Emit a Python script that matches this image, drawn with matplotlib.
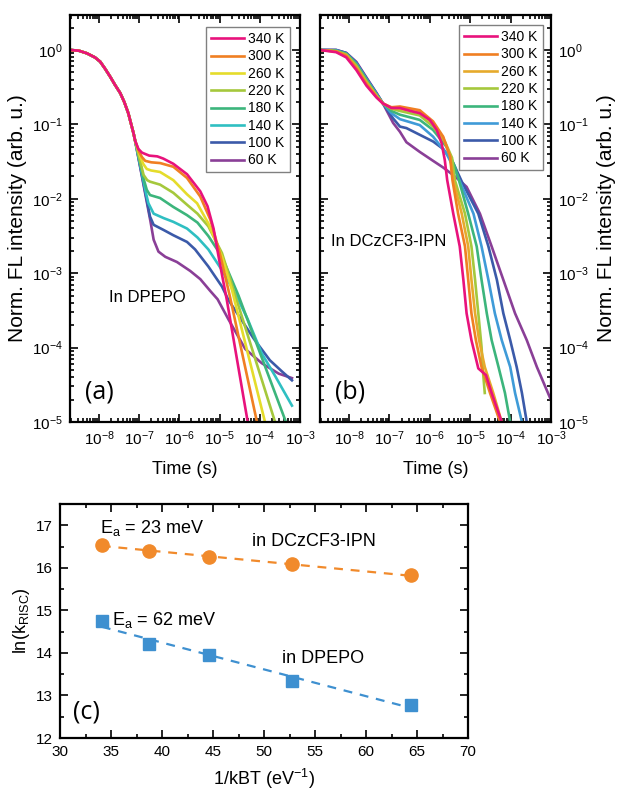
import numpy as np
import matplotlib
matplotlib.use('Agg')
import matplotlib.pyplot as plt
from matplotlib.ticker import FixedLocator, MultipleLocator, NullFormatter, LogFormatterSciNotation

plt.rcParams['font.family'] = ['Liberation Sans', 'DejaVu Sans']
plt.rcParams['mathtext.fontset'] = 'custom'
plt.rcParams['mathtext.rm'] = 'Liberation Sans'
plt.rcParams['mathtext.it'] = 'Liberation Sans:italic'
plt.rcParams['mathtext.bf'] = 'Liberation Sans:bold'

temps = ['340 K', '300 K', '260 K', '220 K', '180 K', '140 K', '100 K', '60 K']
colors_a = ['#e8127c', '#f07f22', '#e5dc2b', '#a5c83c', '#3cb57c', '#2fbfc2', '#3b5aa9', '#8a3f97']
colors_b = ['#e8127c', '#f07f22', '#e6aa2c', '#a5c83c', '#3cb57c', '#3f9bd8', '#3b5aa9', '#8a3f97']

# ---------- Panel (a): in DPEPO, values as log10(time / s), log10(norm. intensity)
a_head_t = [-8.72, -8.50, -8.30, -8.10, -7.97, -7.85, -7.72, -7.60, -7.47, -7.37, -7.27, -7.14, -7.10]
a_head_I = [0.0, -0.01, -0.045, -0.10, -0.157, -0.25, -0.36, -0.47, -0.58, -0.70, -0.85, -1.12, -1.22]

a340_t = [-7.02, -6.93, -6.75, -6.55, -6.40, -6.15, -5.81, -5.48, -5.30, -5.15, -5.00, -4.82, -4.30, -4.20]
a340_I = [-1.33, -1.38, -1.42, -1.43, -1.46, -1.53, -1.67, -1.90, -2.10, -2.40, -2.85, -3.36, -5.0, -5.32]
a300_t = [-7.00, -6.93, -6.85, -6.70, -6.48, -6.15, -5.81, -5.48, -5.23, -5.00, -4.74, -4.07, -3.97]
a300_I = [-1.37, -1.44, -1.49, -1.51, -1.52, -1.57, -1.72, -1.97, -2.28, -2.72, -3.32, -5.0, -5.32]
a260_t = [-6.98, -6.90, -6.81, -6.70, -6.48, -6.15, -5.81, -5.56, -5.28, -4.94, -4.69, -3.87, -3.77]
a260_I = [-1.42, -1.53, -1.60, -1.62, -1.64, -1.75, -1.94, -2.06, -2.33, -2.78, -3.23, -5.0, -5.32]
a220_t = [-6.95, -6.89, -6.80, -6.73, -6.48, -6.15, -5.81, -5.55, -5.28, -4.94, -4.61, -3.62, -3.50]
a220_I = [-1.55, -1.68, -1.75, -1.77, -1.81, -1.92, -2.08, -2.20, -2.37, -2.73, -3.30, -5.0, -5.32]
a180_t = [-6.88, -6.81, -6.73, -6.48, -6.15, -5.81, -5.55, -5.28, -4.94, -4.53, -3.35, -3.22]
a180_I = [-1.75, -1.88, -1.95, -1.99, -2.11, -2.22, -2.32, -2.50, -2.78, -3.30, -5.0, -5.3]
a140_t = [-6.82, -6.77, -6.64, -6.39, -6.15, -5.81, -5.55, -5.28, -4.94, -4.61, -4.30, -3.95, -3.62, -3.20]
a140_I = [-1.95, -2.06, -2.20, -2.26, -2.31, -2.40, -2.52, -2.68, -2.96, -3.27, -3.62, -4.08, -4.38, -4.78]
a100_t = [-6.78, -6.73, -6.64, -6.39, -6.15, -5.81, -5.61, -5.28, -4.94, -4.78, -4.15, -3.75, -3.45, -3.20]
a100_I = [-2.10, -2.24, -2.35, -2.42, -2.49, -2.58, -2.68, -2.91, -3.18, -3.36, -3.88, -4.17, -4.32, -4.44]
a60_t = [-6.72, -6.64, -6.52, -6.35, -6.06, -5.73, -5.48, -5.23, -5.05, -4.78, -4.36, -3.95, -3.53, -3.20]
a60_I = [-2.30, -2.55, -2.71, -2.78, -2.85, -2.97, -3.08, -3.24, -3.35, -3.62, -4.02, -4.21, -4.35, -4.41]

# ---------- Panel (b): in DCzCF3-IPN
b340_t = [-8.73, -8.32, -8.07, -7.82, -7.57, -7.32, -7.16, -6.95, -6.74, -6.41, -6.25, -6.00, -5.83, -5.71, -5.63, -5.57, -5.42, -5.26, -5.17, -5.09, -4.97, -4.80, -4.61, -4.47, -4.22, -4.12]
b340_I = [0.0, -0.03, -0.10, -0.27, -0.48, -0.64, -0.72, -0.78, -0.78, -0.83, -0.85, -0.94, -1.075, -1.25, -1.48, -1.75, -2.20, -2.64, -3.09, -3.54, -3.90, -4.28, -4.37, -4.61, -5.0, -5.2]
b300_t = [-8.73, -8.32, -8.07, -7.82, -7.57, -7.32, -7.16, -6.95, -6.74, -6.25, -5.92, -5.67, -5.50, -5.44, -5.30, -5.13, -5.05, -4.97, -4.86, -4.72, -4.51, -4.26, -4.15]
b300_I = [0.0, -0.02, -0.08, -0.25, -0.46, -0.63, -0.72, -0.77, -0.76, -0.81, -0.96, -1.165, -1.43, -1.75, -2.20, -2.64, -3.09, -3.54, -3.90, -4.26, -4.61, -5.0, -5.2]
b260_t = [-8.73, -8.32, -8.07, -7.82, -7.57, -7.32, -7.16, -6.95, -6.74, -6.25, -5.92, -5.67, -5.50, -5.42, -5.21, -5.05, -4.97, -4.88, -4.78, -4.64, -4.43, -4.22, -4.10]
b260_I = [0.0, -0.02, -0.07, -0.23, -0.44, -0.62, -0.72, -0.78, -0.79, -0.84, -0.99, -1.18, -1.42, -1.75, -2.20, -2.64, -3.09, -3.54, -3.90, -4.26, -4.61, -5.0, -5.2]
b220_t = [-8.73, -8.32, -8.07, -7.82, -7.57, -7.32, -7.16, -6.95, -6.74, -6.25, -5.92, -5.62, -5.45, -5.38, -5.13, -4.97, -4.88, -4.80, -4.72, -4.68, -4.64]
b220_I = [0.0, -0.015, -0.06, -0.21, -0.42, -0.61, -0.72, -0.79, -0.82, -0.88, -1.03, -1.24, -1.45, -1.75, -2.20, -2.64, -3.09, -3.54, -3.99, -4.35, -4.61]
b180_t = [-8.73, -8.32, -8.07, -7.82, -7.57, -7.32, -7.16, -6.95, -6.74, -6.25, -5.92, -5.59, -5.38, -5.28, -5.05, -4.84, -4.72, -4.59, -4.47, -4.30, -4.14, -4.01, -3.92]
b180_I = [0.0, -0.01, -0.05, -0.19, -0.40, -0.60, -0.72, -0.82, -0.87, -0.94, -1.075, -1.30, -1.57, -1.75, -2.20, -2.64, -3.09, -3.54, -3.90, -4.26, -4.61, -5.0, -5.2]
b140_t = [-8.73, -8.32, -8.07, -7.82, -7.57, -7.32, -7.16, -6.95, -6.74, -6.25, -5.92, -5.59, -5.34, -5.17, -4.92, -4.72, -4.55, -4.39, -4.22, -4.01, -3.89, -3.72, -3.65]
b140_I = [0.0, -0.005, -0.05, -0.18, -0.39, -0.59, -0.72, -0.85, -0.93, -1.01, -1.165, -1.39, -1.66, -1.88, -2.20, -2.64, -3.09, -3.54, -3.90, -4.26, -4.61, -5.0, -5.2]
b100_t = [-8.73, -8.32, -8.07, -7.82, -7.57, -7.32, -7.16, -6.91, -6.74, -6.58, -6.25, -5.92, -5.67, -5.42, -5.20, -4.80, -4.55, -4.34, -4.18, -4.01, -3.85, -3.72, -3.60, -3.52]
b100_I = [0.0, 0.0, -0.04, -0.17, -0.38, -0.58, -0.72, -0.92, -1.03, -1.05, -1.14, -1.23, -1.33, -1.52, -1.78, -2.20, -2.64, -3.09, -3.54, -3.90, -4.26, -4.61, -5.0, -5.2]
b60_t = [-8.73, -8.32, -8.07, -7.82, -7.57, -7.32, -7.16, -6.91, -6.74, -6.58, -6.25, -5.92, -5.67, -5.45, -5.25, -5.09, -4.76, -4.47, -4.18, -3.89, -3.60, -3.35, -3.02]
b60_I = [0.0, 0.0, -0.04, -0.16, -0.37, -0.58, -0.72, -0.98, -1.10, -1.24, -1.37, -1.49, -1.58, -1.67, -1.76, -1.84, -2.20, -2.64, -3.09, -3.54, -3.90, -4.26, -4.68]

# ---------- Panel (c): Arrhenius plot
inv_kT = [34.1, 38.7, 44.6, 52.7, 64.4]
lnk_ipn = [16.53, 16.40, 16.26, 16.08, 15.82]
lnk_dpepo = [14.74, 14.22, 13.95, 13.35, 12.78]

# axis decades shown as labelled ticks
x_decades = [-8, -7, -6, -5, -4, -3]
y_decades = [-5, -4, -3, -2, -1, 0]

a_tails = [(a340_t, a340_I), (a300_t, a300_I), (a260_t, a260_I), (a220_t, a220_I),
           (a180_t, a180_I), (a140_t, a140_I), (a100_t, a100_I), (a60_t, a60_I)]
b_curves = [(b340_t, b340_I), (b300_t, b300_I), (b260_t, b260_I), (b220_t, b220_I),
            (b180_t, b180_I), (b140_t, b140_I), (b100_t, b100_I), (b60_t, b60_I)]

fig = plt.figure(figsize=(6.22, 7.94), dpi=100)
axa = fig.add_axes([70/622, 1-422/794, 230/622, 407/794])
axb = fig.add_axes([320/622, 1-422/794, 231/622, 407/794])
axc = fig.add_axes([60/622, 1-738/794, 408/622, 234/794])

LW = 1.9
TICK_FS = 11
XLIM = (10**-8.72, 1e-3)
YLIM = (1e-5, 2.95)


def minor_in_range(lo, hi):
    vals = []
    for d in range(int(np.floor(np.log10(lo))) - 1, int(np.ceil(np.log10(hi))) + 1):
        for s in range(2, 10):
            v = s * 10.0**d
            if lo <= v <= hi:
                vals.append(v)
    return vals


def style_log(ax):
    ax.set_xscale('log')
    ax.set_yscale('log')
    ax.set_xlim(*XLIM)
    ax.set_ylim(*YLIM)
    ax.xaxis.set_major_locator(FixedLocator([10.0**d for d in x_decades]))
    ax.yaxis.set_major_locator(FixedLocator([10.0**d for d in y_decades]))
    ax.xaxis.set_major_formatter(LogFormatterSciNotation())
    ax.yaxis.set_major_formatter(LogFormatterSciNotation())
    ax.xaxis.set_minor_locator(FixedLocator(minor_in_range(*XLIM)))
    ax.yaxis.set_minor_locator(FixedLocator(minor_in_range(*YLIM)))
    ax.xaxis.set_minor_formatter(NullFormatter())
    ax.yaxis.set_minor_formatter(NullFormatter())
    ax.tick_params(which='both', direction='in', top=True, right=True, width=1.2)
    ax.tick_params(which='major', length=6, labelsize=TICK_FS, pad=5)
    ax.tick_params(which='minor', length=3)
    for s in ax.spines.values():
        s.set_linewidth(1.6)
    ax.set_xlabel('Time (s)', fontsize=13, labelpad=10)


# Panel (a)
style_log(axa)
handles = []
for i in range(len(temps) - 1, -1, -1):
    t = np.array(a_head_t + a_tails[i][0])
    y = np.array(a_head_I + a_tails[i][1])
    ln, = axa.plot(10**t, 10**y, color=colors_a[i], lw=LW, label=temps[i])
    handles.append(ln)
handles = handles[::-1]
axa.legend(handles=handles, loc='upper right', bbox_to_anchor=(0.955, 0.97), fontsize=10,
           frameon=True, fancybox=False, edgecolor='#808080', framealpha=1,
           handlelength=2.4, handletextpad=0.3, labelspacing=0.24, borderpad=0.35,
           borderaxespad=0).get_frame().set_linewidth(1.0)
axa.set_ylabel('Norm. FL intensity (arb. u.)', fontsize=15, labelpad=4)
axa.text(10**-7.75, 10**-3.33, 'In DPEPO', fontsize=12, va='center', ha='left')
axa.text(10**-8.35, 10**-4.6, '(a)', fontsize=18, family=['Open Sans', 'DejaVu Sans'], va='center', ha='left')

# Panel (b)
style_log(axb)
handles = []
for i in range(len(temps) - 1, -1, -1):
    t = np.array(b_curves[i][0])
    y = np.array(b_curves[i][1])
    ln, = axb.plot(10**t, 10**y, color=colors_b[i], lw=LW, label=temps[i])
    handles.append(ln)
handles = handles[::-1]
axb.legend(handles=handles, loc='upper right', bbox_to_anchor=(0.965, 0.975), fontsize=10,
           frameon=True, fancybox=False, edgecolor='#808080', framealpha=1,
           handlelength=2.4, handletextpad=0.3, labelspacing=0.24, borderpad=0.35,
           borderaxespad=0).get_frame().set_linewidth(1.0)
axb.tick_params(axis='y', which='both', labelleft=False, labelright=True)
axb.yaxis.set_label_position('right')
axb.set_ylabel('Norm. FL intensity (arb. u.)', fontsize=15, labelpad=6)
axb.text(10**-8.45, 10**-2.58, 'In DCzCF3-IPN', fontsize=12, va='center', ha='left')
axb.text(10**-8.35, 10**-4.6, '(b)', fontsize=18, family=['Open Sans', 'DejaVu Sans'], va='center', ha='left')

# Panel (c)
c_orange = '#f18a2b'
c_blue = '#3e90d0'
x = np.array(inv_kT)
for yv, col, mk, ms in [(lnk_ipn, c_orange, 'o', 9.5), (lnk_dpepo, c_blue, 's', 8)]:
    yv = np.array(yv)
    p = np.polyfit(x, yv, 1)
    xx = np.array([x.min(), x.max()])
    axc.plot(xx, np.polyval(p, xx), ls=(0, (4, 3.5)), color=col, lw=1.6, zorder=2)
    axc.plot(x, yv, ls='none', marker=mk, ms=ms, color=col, mec=col, zorder=3)
axc.set_xlim(30, 70)
axc.set_ylim(12, 17.5)
axc.xaxis.set_major_locator(MultipleLocator(5))
axc.xaxis.set_minor_locator(MultipleLocator(2.5))
axc.yaxis.set_major_locator(MultipleLocator(1))
axc.yaxis.set_minor_locator(MultipleLocator(0.5))
axc.tick_params(which='both', direction='in', top=True, right=True, width=1.2)
axc.tick_params(which='major', length=6, labelsize=TICK_FS, pad=5)
axc.tick_params(which='minor', length=3)
for s in axc.spines.values():
    s.set_linewidth(1.6)
axc.set_xlabel('1/kBT (eV$^{-1}$)', fontsize=13, labelpad=6)
axc.set_ylabel('ln(k$_{\\mathrm{RISC}}$)', fontsize=13, labelpad=3)
axc.text(33.9, 16.93, 'E$_{\\mathrm{a}}$ = 23 meV', fontsize=13, va='center', ha='left')
axc.text(48.8, 16.62, 'in DCzCF3-IPN', fontsize=13, va='center', ha='left')
axc.text(35.1, 14.78, 'E$_{\\mathrm{a}}$ = 62 meV', fontsize=13, va='center', ha='left')
axc.text(51.8, 13.88, 'in DPEPO', fontsize=13, va='center', ha='left')
axc.text(31.3, 12.6, '(c)', fontsize=18, family=['Open Sans', 'DejaVu Sans'], va='center', ha='left')

fig.savefig('out.png', dpi=100)
